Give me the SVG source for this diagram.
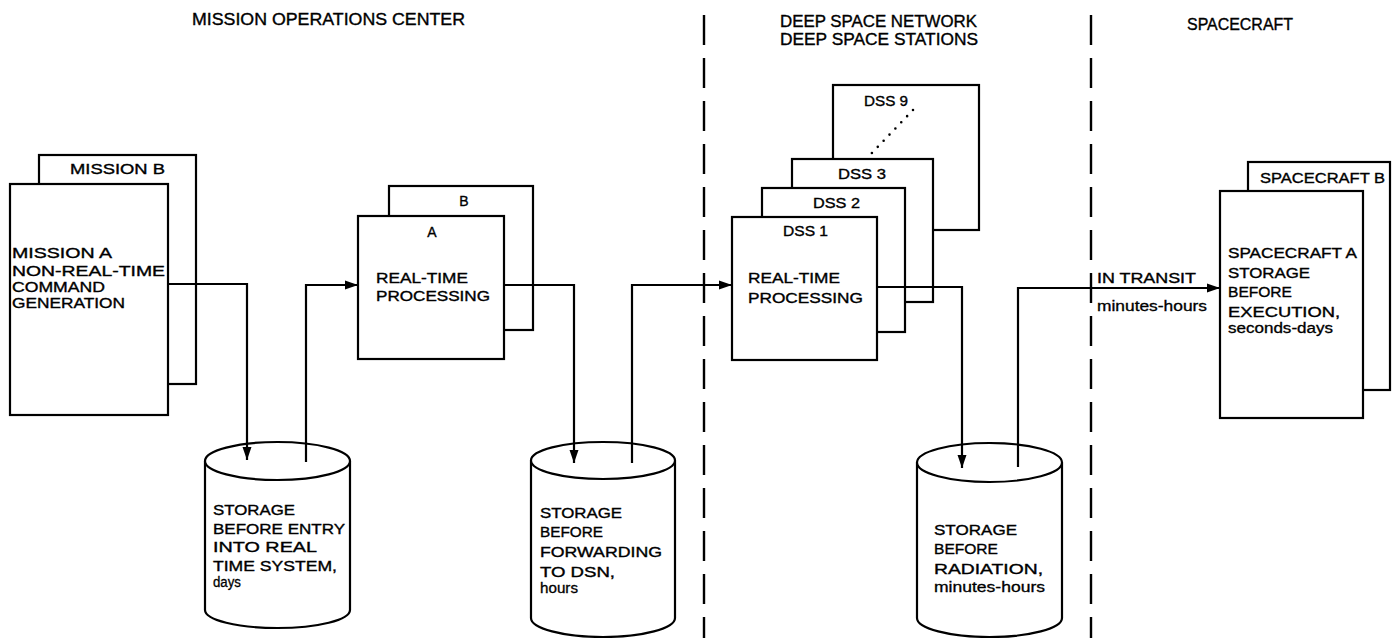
<svg xmlns="http://www.w3.org/2000/svg" width="1398" height="638" viewBox="0 0 1398 638">
<style>
.b{fill:#fff;stroke:#000;stroke-width:2.2}
.c{fill:none;stroke:#000;stroke-width:2.2}
.d{fill:none;stroke:#000;stroke-width:2.4;stroke-dasharray:30 13}
.t{font-family:"Liberation Sans",Arial,sans-serif;font-size:14px;fill:#000;stroke:#000;stroke-width:0.35}
.h{font-family:"Liberation Sans",Arial,sans-serif;font-size:16px;fill:#000;stroke:#000;stroke-width:0.35}
.s{font-family:"Liberation Sans",Arial,sans-serif;font-size:14px;fill:#000;stroke:#000;stroke-width:0.3}
</style>
<defs>
<marker id="ah" markerUnits="userSpaceOnUse" markerWidth="14" markerHeight="10" refX="13" refY="5" orient="auto">
<path d="M0,0.5 L13,5 L0,9.5 Z" fill="#000"/>
</marker>
</defs>
<rect width="1398" height="638" fill="#fff"/>

<g id="headers">
<text class="h" x="192" y="25" textLength="273" lengthAdjust="spacingAndGlyphs">MISSION OPERATIONS CENTER</text>
<text class="h" x="780" y="27" textLength="197" lengthAdjust="spacingAndGlyphs">DEEP SPACE NETWORK</text>
<text class="h" x="780" y="45" textLength="198" lengthAdjust="spacingAndGlyphs">DEEP SPACE STATIONS</text>
<text class="h" x="1187" y="30" textLength="106" lengthAdjust="spacingAndGlyphs">SPACECRAFT</text>
</g>

<g id="dividers">
<line class="d" x1="704" y1="15" x2="704" y2="638"/>
<line class="d" x1="1091" y1="15" x2="1091" y2="638"/>
</g>

<g id="mission">
<rect class="b" x="39" y="155" width="157" height="229"/>
<text class="t" x="70" y="174" textLength="95" lengthAdjust="spacingAndGlyphs">MISSION B</text>
<rect class="b" x="10" y="184" width="158" height="231"/>
<text class="t" x="12" y="258" textLength="100" lengthAdjust="spacingAndGlyphs">MISSION A</text>
<text class="t" x="12" y="276" textLength="153" lengthAdjust="spacingAndGlyphs">NON-REAL-TIME</text>
<text class="t" x="12" y="292" textLength="93" lengthAdjust="spacingAndGlyphs">COMMAND</text>
<text class="t" x="12" y="308" textLength="113" lengthAdjust="spacingAndGlyphs">GENERATION</text>
</g>

<g id="rtp">
<rect class="b" x="389" y="186" width="144" height="144"/>
<text class="t" x="464" y="206" text-anchor="middle">B</text>
<rect class="b" x="358" y="216" width="146" height="143"/>
<text class="t" x="432" y="237" text-anchor="middle">A</text>
<text class="t" x="376" y="283" textLength="92" lengthAdjust="spacingAndGlyphs">REAL-TIME</text>
<text class="t" x="376" y="301" textLength="114" lengthAdjust="spacingAndGlyphs">PROCESSING</text>
</g>

<g id="dss">
<rect class="b" x="833" y="85" width="146" height="145"/>
<text class="t" x="864" y="106" textLength="44" lengthAdjust="spacingAndGlyphs">DSS 9</text>
<line x1="913" y1="110" x2="870" y2="155" stroke="#000" stroke-width="2.6" stroke-linecap="round" stroke-dasharray="0 8.5"/>
<rect class="b" x="792" y="159" width="141" height="143"/>
<text class="t" x="838" y="179" textLength="48" lengthAdjust="spacingAndGlyphs">DSS 3</text>
<rect class="b" x="762" y="188" width="143" height="144"/>
<text class="t" x="813" y="208" textLength="47" lengthAdjust="spacingAndGlyphs">DSS 2</text>
<rect class="b" x="732" y="217" width="145" height="143"/>
<text class="t" x="783" y="236" textLength="45" lengthAdjust="spacingAndGlyphs">DSS 1</text>
<text class="t" x="748" y="283" textLength="92" lengthAdjust="spacingAndGlyphs">REAL-TIME</text>
<text class="t" x="748" y="303" textLength="115" lengthAdjust="spacingAndGlyphs">PROCESSING</text>
</g>

<g id="spacecraft">
<rect class="b" x="1248" y="162" width="142" height="228"/>
<text class="t" x="1260" y="183" textLength="125" lengthAdjust="spacingAndGlyphs">SPACECRAFT B</text>
<rect class="b" x="1220" y="191" width="143" height="227"/>
<text class="t" x="1228" y="258" textLength="129" lengthAdjust="spacingAndGlyphs">SPACECRAFT A</text>
<text class="t" x="1228" y="278" textLength="82" lengthAdjust="spacingAndGlyphs">STORAGE</text>
<text class="t" x="1228" y="297" textLength="64" lengthAdjust="spacingAndGlyphs">BEFORE</text>
<text class="t" x="1228" y="317" textLength="112" lengthAdjust="spacingAndGlyphs">EXECUTION,</text>
<text class="s" x="1228" y="333" textLength="105" lengthAdjust="spacingAndGlyphs">seconds-days</text>
</g>

<g id="storage1">
<path class="b" d="M205,461 L205,610 A72.5,18 0 0 0 350,610 L350,461"/>
<ellipse class="b" cx="277.5" cy="461" rx="72.5" ry="19"/>
<text class="t" x="213" y="515" textLength="82" lengthAdjust="spacingAndGlyphs">STORAGE</text>
<text class="t" x="213" y="534" textLength="132" lengthAdjust="spacingAndGlyphs">BEFORE ENTRY</text>
<text class="t" x="213" y="552" textLength="104" lengthAdjust="spacingAndGlyphs">INTO REAL</text>
<text class="t" x="213" y="571" textLength="124" lengthAdjust="spacingAndGlyphs">TIME SYSTEM,</text>
<text class="s" x="213" y="587" textLength="28" lengthAdjust="spacingAndGlyphs">days</text>
</g>

<g id="storage2">
<path class="b" d="M531,460.5 L531,618 A72,19 0 0 0 675,618 L675,460.5"/>
<ellipse class="b" cx="603" cy="460.5" rx="72" ry="18.5"/>
<text class="t" x="540" y="518" textLength="82" lengthAdjust="spacingAndGlyphs">STORAGE</text>
<text class="t" x="540" y="537" textLength="63" lengthAdjust="spacingAndGlyphs">BEFORE</text>
<text class="t" x="540" y="557" textLength="122" lengthAdjust="spacingAndGlyphs">FORWARDING</text>
<text class="t" x="540" y="577" textLength="75" lengthAdjust="spacingAndGlyphs">TO DSN,</text>
<text class="s" x="540" y="593" textLength="38" lengthAdjust="spacingAndGlyphs">hours</text>
</g>

<g id="storage3">
<path class="b" d="M917,462.5 L917,618 A72.5,19 0 0 0 1062,618 L1062,462.5"/>
<ellipse class="b" cx="989.5" cy="462.5" rx="72.5" ry="19.5"/>
<text class="t" x="934" y="535" textLength="83" lengthAdjust="spacingAndGlyphs">STORAGE</text>
<text class="t" x="934" y="554" textLength="64" lengthAdjust="spacingAndGlyphs">BEFORE</text>
<text class="t" x="934" y="574" textLength="109" lengthAdjust="spacingAndGlyphs">RADIATION,</text>
<text class="s" x="934" y="592" textLength="111" lengthAdjust="spacingAndGlyphs">minutes-hours</text>
</g>

<g id="connectors">
<polyline class="c" points="168,284 247,284 247,460" marker-end="url(#ah)"/>
<polyline class="c" points="306,462 306,285 358,285" marker-end="url(#ah)"/>
<polyline class="c" points="504,285 574,285 574,463" marker-end="url(#ah)"/>
<polyline class="c" points="632,463 632,285 732,285" marker-end="url(#ah)"/>
<polyline class="c" points="877,287 962,287 962,468" marker-end="url(#ah)"/>
<polyline class="c" points="1018,467 1018,288 1220,288" marker-end="url(#ah)"/>
<text class="t" x="1097" y="283" textLength="99" lengthAdjust="spacingAndGlyphs">IN TRANSIT</text>
<text class="s" x="1097" y="311" textLength="110" lengthAdjust="spacingAndGlyphs">minutes-hours</text>
</g>
</svg>
